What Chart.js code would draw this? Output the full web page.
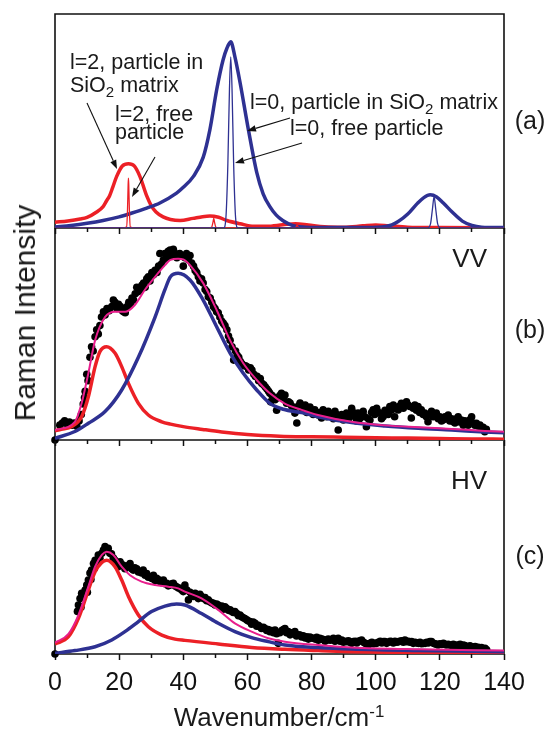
<!DOCTYPE html>
<html>
<head>
<meta charset="utf-8">
<script src="https://cdn.jsdelivr.net/npm/chart.js@4"></script>
<style>
body { margin: 0; background: #fff; width: 546px; height: 731px; position: relative; overflow: hidden;
       font-family: "Liberation Sans", Arial, sans-serif; color: #1a1a1a; }
.panel { position: absolute; left: 0; width: 546px; }
.txt { position: absolute; line-height: 1; white-space: nowrap; }
.txt sub { font-size: 70%; vertical-align: -0.3em; line-height: 0; }
.txt sup { font-size: 65%; vertical-align: 0.55em; line-height: 0; }
</style>
</head>
<body>
<div class="panel" style="top:0;height:236px"><canvas id="chart-a"></canvas></div>
<div class="panel" style="top:218px;height:230px"><canvas id="chart-b"></canvas></div>
<div class="panel" style="top:431px;height:300px"><canvas id="chart-c"></canvas></div>

<!-- annotations of panel (a) -->
<div class="txt" style="left:70px;top:63px;font-size:21.5px;transform:translateY(-50%)">l=2, particle in</div>
<div class="txt" style="left:70px;top:86px;font-size:21.5px;transform:translateY(-50%)">SiO<sub>2</sub> matrix</div>
<div class="txt" style="left:115px;top:115px;font-size:21.5px;transform:translateY(-50%)">l=2, free</div>
<div class="txt" style="left:115px;top:133px;font-size:21.5px;transform:translateY(-50%)">particle</div>
<div class="txt" style="left:250px;top:103px;font-size:21.5px;transform:translateY(-50%)">l=0, particle in SiO<sub>2</sub> matrix</div>
<div class="txt" style="left:290px;top:129px;font-size:21.5px;transform:translateY(-50%)">l=0, free particle</div>

<div class="txt" style="left:530px;top:120px;font-size:25px;transform:translate(-50%,-50%)">(a)</div>
<div class="txt" style="left:530px;top:329px;font-size:25px;transform:translate(-50%,-50%)">(b)</div>
<div class="txt" style="left:530px;top:555px;font-size:25px;transform:translate(-50%,-50%)">(c)</div>
<div class="txt" style="left:487px;top:258px;font-size:26px;transform:translate(-100%,-50%)">VV</div>
<div class="txt" style="left:487px;top:480px;font-size:26px;transform:translate(-100%,-50%)">HV</div>

<div class="txt" style="left:25px;top:313px;font-size:30px;transform:translate(-50%,-50%) rotate(-90deg)">Raman Intensity</div>
<div class="txt" style="left:279px;top:717px;font-size:26px;transform:translate(-50%,-50%)">Wavenumber/cm<sup>-1</sup></div>

<script>
// 坐标轴
const xMin = 0, xMax = 140;
const tickLabels = [0, 20, 40, 60, 80, 100, 120, 140];

// 颜色
const red = 'rgb(236,32,38)';
const blue = 'rgb(46,49,146)';
const pink = 'rgb(232,30,140)';

// (a) 计算曲线
const aRedX = [0, 4, 7.8, 10, 13, 15, 16, 17, 18, 19.2, 21, 22.9, 24.7, 26.5, 28.6, 30, 31.5, 33.7, 36, 39, 43, 46, 48.3, 51, 53.6, 57.7, 62, 66, 71, 75, 79, 84, 90, 96, 100, 104, 110, 120, 140];
const aRedY = [0.027, 0.033, 0.042, 0.05, 0.075, 0.1, 0.125, 0.15, 0.19, 0.24, 0.29, 0.30, 0.29, 0.24, 0.15, 0.105, 0.075, 0.052, 0.04, 0.035, 0.045, 0.053, 0.056, 0.05, 0.035, 0.02, 0.008, 0.008, 0.015, 0.02, 0.014, 0.006, 0.004, 0.01, 0.014, 0.01, 0.004, 0.002, 0.001];

const aBlueX = [0, 5, 10, 15, 20, 24, 28.6, 32.7, 37.9, 40, 43.1, 46.2, 48.3, 50.4, 52.4, 53.6, 54.8, 56.1, 57.7, 60.3, 62.9, 64.9, 67, 69, 71, 73, 75, 78, 85, 95, 102, 105, 107, 110, 113, 115, 117, 119, 121, 124, 127, 130, 133, 140];
const aBlueY = [0.005, 0.012, 0.022, 0.035, 0.052, 0.07, 0.093, 0.117, 0.163, 0.19, 0.24, 0.33, 0.46, 0.645, 0.785, 0.84, 0.87, 0.80, 0.68, 0.46, 0.26, 0.16, 0.10, 0.06, 0.035, 0.018, 0.008, 0.004, 0.002, 0.002, 0.005, 0.015, 0.03, 0.065, 0.115, 0.142, 0.155, 0.145, 0.118, 0.072, 0.032, 0.012, 0.004, 0.002];

const aThinRedX = [0, 21, 22.3, 22.6, 22.8, 22.9, 23.0, 23.2, 23.5, 24.8, 47, 48.8, 49.3, 49.5, 49.7, 50.2, 52, 74, 75.1, 75.5, 75.9, 77, 140];
const aThinRedY = [0, 0, 0.004, 0.08, 0.2, 0.233, 0.2, 0.08, 0.004, 0, 0, 0.003, 0.03, 0.045, 0.03, 0.003, 0, 0, 0.003, 0.014, 0.003, 0, 0];

const aThinBlueX = [0, 50, 52.6, 53.3, 53.9, 54.4, 54.8, 55.2, 55.7, 56.3, 57, 60, 112, 116.2, 117.1, 117.7, 118.2, 118.7, 119.3, 120.2, 124, 140];
const aThinBlueY = [0, 0, 0, 0.05, 0.3, 0.65, 0.80, 0.65, 0.3, 0.05, 0, 0, 0, 0, 0.02, 0.09, 0.146, 0.09, 0.02, 0, 0, 0];

// (b) VV
const bRedX = [0, 2, 5.2, 8.3, 10.4, 12.5, 14, 16.1, 18.7, 20.8, 22.9, 26, 29.1, 33.3, 36, 40, 46, 52, 60, 70, 80, 90, 100, 110, 120, 130, 140];
const bRedY = [0.044, 0.05, 0.063, 0.11, 0.204, 0.346, 0.417, 0.44, 0.41, 0.346, 0.267, 0.173, 0.118, 0.086, 0.075, 0.063, 0.05, 0.038, 0.026, 0.018, 0.015, 0.013, 0.011, 0.009, 0.007, 0.005, 0.004];

const bBlueX = [0, 6.2, 10.4, 15.6, 20.8, 26, 31.2, 34.3, 36, 38.4, 42.1, 46.2, 50.4, 54.6, 58.7, 62.9, 67, 71.2, 76.9, 82, 92.5, 102.9, 113.3, 123.7, 134, 140];
const bBlueY = [0.008, 0.04, 0.079, 0.134, 0.236, 0.39, 0.58, 0.71, 0.77, 0.786, 0.755, 0.66, 0.534, 0.41, 0.315, 0.236, 0.173, 0.145, 0.129, 0.11, 0.082, 0.066, 0.055, 0.047, 0.038, 0.034];

const bSumX = [0, 6.2, 8.3, 10.4, 12.5, 15.6, 18.7, 21.9, 24.9, 28.1, 31.2, 34.3, 36, 38.4, 40, 42.1, 46.2, 50.4, 54.6, 58.7, 62.9, 67, 71.5, 76.9, 82, 92.5, 102.9, 113.3, 123.7, 134, 140];
const bSumY = [0.047, 0.086, 0.173, 0.315, 0.47, 0.58, 0.605, 0.605, 0.637, 0.71, 0.77, 0.825, 0.85, 0.855, 0.852, 0.825, 0.74, 0.613, 0.47, 0.362, 0.283, 0.22, 0.173, 0.142, 0.118, 0.086, 0.069, 0.06, 0.052, 0.043, 0.039];

// (b) 实验数据点 [波数, 强度]
const bDots = [
  [0, 0], [1.5, 0.07], [2.3, 0.08], [3, 0.09], [3.8, 0.075], [4.5, 0.085], [5.3, 0.07], [6, 0.08], [6.8, 0.065], [7.5, 0.09],
  [8.2, 0.12], [8.8, 0.17], [9.2, 0.2], [9.4, 0.23], [9.9, 0.31], [10.3, 0.28], [10.9, 0.39], [11.4, 0.44], [11.9, 0.42], [12.5, 0.487],
  [13, 0.52], [13.5, 0.5], [14, 0.54], [14.5, 0.58], [15.1, 0.605], [15.6, 0.59], [16.2, 0.62], [16.9, 0.61], [17.7, 0.63], [18.2, 0.66],
  [18.7, 0.65], [19.3, 0.62], [19.8, 0.64], [20.4, 0.63], [21, 0.61], [21.4, 0.605], [21.9, 0.6], [22.5, 0.63], [23, 0.65], [23.5, 0.64],
  [24, 0.67], [24.5, 0.66], [25, 0.69], [25.5, 0.72], [26, 0.7], [26.6, 0.71], [27.1, 0.73], [27.6, 0.74], [28.1, 0.72], [28.6, 0.76],
  [29.1, 0.77], [29.6, 0.75], [30.2, 0.79], [30.7, 0.78], [31.2, 0.8], [31.8, 0.79], [32.3, 0.82], [32.7, 0.88], [33.2, 0.83], [33.8, 0.85],
  [34.3, 0.88], [34.8, 0.86], [35.3, 0.89], [35.9, 0.896], [36.4, 0.87], [36.9, 0.9], [37.5, 0.88], [38, 0.86], [38.5, 0.87], [38.9, 0.88],
  [39.5, 0.87], [40, 0.82], [40.5, 0.86], [41, 0.88], [41.6, 0.85], [42.1, 0.87], [42.6, 0.835], [43.2, 0.82], [43.7, 0.8], [44.2, 0.79],
  [44.7, 0.77], [45.2, 0.75], [45.7, 0.76], [46.2, 0.74], [46.8, 0.71], [47.3, 0.7], [47.8, 0.676], [48.4, 0.67], [48.9, 0.65], [49.4, 0.63],
  [49.9, 0.62], [50.4, 0.605], [50.9, 0.6], [51.4, 0.58], [52, 0.56], [52.5, 0.55], [53, 0.54], [53.6, 0.52], [54.1, 0.49], [54.6, 0.47],
  [55.2, 0.44], [55.7, 0.377], [56.3, 0.42], [56.8, 0.4], [57.3, 0.39], [57.8, 0.37], [58.3, 0.36], [58.9, 0.35], [59.4, 0.35], [59.9, 0.345],
  [60.4, 0.33], [60.9, 0.34], [61.4, 0.33], [62, 0.31], [62.5, 0.3], [63, 0.3], [63.5, 0.28], [64, 0.29], [64.5, 0.267], [65.1, 0.26],
  [65.6, 0.25], [66.1, 0.24], [66.6, 0.23], [67, 0.22], [67.2, 0.18], [67.7, 0.21], [68.2, 0.2], [68.6, 0.19], [69.1, 0.14], [69.6, 0.2],
  [70.1, 0.21], [70.6, 0.22], [71.2, 0.2], [71.7, 0.212], [72.2, 0.173], [72.8, 0.18], [73.3, 0.174], [73.8, 0.16], [74.3, 0.15], [74.8, 0.127],
  [75.4, 0.08], [75.9, 0.16], [76.4, 0.174], [76.9, 0.15], [77.5, 0.14], [78, 0.165], [78.5, 0.13], [79, 0.15], [79.5, 0.156], [80, 0.13],
  [80.5, 0.12], [81, 0.142], [81.5, 0.13], [82.1, 0.118], [82.6, 0.13], [83.1, 0.104], [83.6, 0.142], [84.2, 0.12], [84.7, 0.11], [85.2, 0.135],
  [85.7, 0.125], [86.2, 0.118], [86.8, 0.1], [87.3, 0.135], [87.8, 0.12], [88.3, 0.047], [88.8, 0.11], [89.4, 0.12], [89.9, 0.094], [90.4, 0.11],
  [90.9, 0.127], [91.5, 0.1], [92, 0.12], [92.5, 0.15], [93, 0.13], [93.5, 0.11], [94, 0.09], [94.5, 0.127], [95, 0.1], [95.6, 0.12],
  [96.1, 0.135], [96.6, 0.11], [97.1, 0.063], [97.7, 0.1], [98.2, 0.094], [98.7, 0.13], [99.2, 0.142], [99.7, 0.12], [100.3, 0.15], [100.8, 0.13],
  [101.3, 0.127], [101.8, 0.1], [102.3, 0.11], [102.9, 0.14], [103.4, 0.135], [103.9, 0.12], [104.4, 0.158], [104.9, 0.14], [105.5, 0.165], [105.9, 0.11],
  [106.5, 0.15], [107, 0.142], [107.5, 0.16], [108, 0.173], [108.6, 0.15], [109.1, 0.17], [109.6, 0.18], [110.1, 0.165], [110.6, 0.158], [111.1, 0.104],
  [111.7, 0.15], [112.2, 0.165], [112.7, 0.14], [113.2, 0.158], [113.7, 0.13], [114.2, 0.142], [114.8, 0.12], [115.3, 0.127], [115.8, 0.11], [116.3, 0.086],
  [116.8, 0.12], [117.4, 0.135], [117.9, 0.11], [118.4, 0.12], [118.9, 0.127], [119.5, 0.1], [120, 0.11], [120.5, 0.09], [121, 0.094], [121.6, 0.11],
  [122.1, 0.1], [122.6, 0.118], [123.1, 0.09], [123.7, 0.1], [124.2, 0.086], [124.7, 0.08], [125.2, 0.1], [125.7, 0.11], [126.2, 0.085], [126.7, 0.094],
  [127.3, 0.07], [127.8, 0.09], [128.3, 0.086], [128.8, 0.07], [129.4, 0.095], [129.9, 0.11], [130.4, 0.08], [130.9, 0.07], [131.4, 0.079], [132, 0.065],
  [132.5, 0.071], [133, 0.055], [133.5, 0.06], [134, 0.039], [134.5, 0.05]
];

// (c) HV
const cRedX = [0, 4.2, 7.3, 10.4, 12.5, 14.6, 16.1, 18.7, 20.8, 22.9, 26, 29.1, 33.3, 37.4, 40.5, 50.9, 61.3, 71.7, 82.1, 92.5, 113.3, 140];
const cRedY = [0.047, 0.081, 0.167, 0.30, 0.386, 0.43, 0.44, 0.41, 0.347, 0.27, 0.183, 0.128, 0.089, 0.07, 0.064, 0.047, 0.031, 0.022, 0.016, 0.011, 0.006, 0.003];

const cBlueX = [0, 6.2, 12.5, 17.7, 21.8, 26, 30.1, 34.3, 37.9, 40.5, 45.7, 50.9, 56.1, 61.3, 66.5, 71.7, 82.1, 92.5, 113.3, 140];
const cBlueY = [0.003, 0.016, 0.034, 0.066, 0.105, 0.152, 0.199, 0.225, 0.235, 0.23, 0.19, 0.144, 0.105, 0.077, 0.058, 0.042, 0.03, 0.023, 0.016, 0.011];

const cSumX = [0, 4.2, 7.3, 10.4, 12.5, 14.6, 16.1, 18.2, 20.8, 23.4, 27, 31.2, 35.3, 38.4, 40.5, 45.7, 50.9, 56.1, 61.3, 66.5, 71.7, 82.1, 92.5, 113.3, 140];
const cSumY = [0.053, 0.095, 0.183, 0.316, 0.41, 0.465, 0.48, 0.465, 0.41, 0.37, 0.34, 0.324, 0.316, 0.308, 0.293, 0.261, 0.207, 0.144, 0.105, 0.074, 0.058, 0.042, 0.031, 0.022, 0.016];

const cDots = [
  [0, 0], [7, 0.2], [7.3, 0.23], [7.8, 0.26], [8.1, 0.22], [8.3, 0.285], [8.8, 0.27], [9.4, 0.3], [9.9, 0.324], [10.1, 0.29],
  [10.4, 0.347], [10.9, 0.38], [11.2, 0.35], [11.4, 0.394], [12, 0.425], [12.2, 0.4], [12.5, 0.44], [13, 0.43], [13.5, 0.465], [14, 0.45],
  [14.6, 0.473], [15.1, 0.488], [15.6, 0.504], [16.1, 0.49], [16.6, 0.496], [17.1, 0.473], [17.6, 0.47], [18.2, 0.45], [18.7, 0.44], [19.2, 0.425],
  [19.7, 0.41], [20.3, 0.433], [20.8, 0.42], [21.3, 0.417], [21.8, 0.4], [22.3, 0.41], [22.9, 0.415], [23.4, 0.425], [23.9, 0.4], [24.4, 0.394],
  [24.9, 0.405], [25.5, 0.4], [26, 0.385], [26.5, 0.386], [27, 0.38], [27.5, 0.394], [28.1, 0.37], [28.6, 0.378], [29.1, 0.36], [29.6, 0.363],
  [30.2, 0.355], [30.7, 0.37], [31.2, 0.345], [31.7, 0.355], [32.2, 0.35], [32.7, 0.34], [33.3, 0.335], [33.8, 0.347], [34.3, 0.33], [34.8, 0.332],
  [35.3, 0.32], [35.9, 0.324], [36.4, 0.33], [36.9, 0.332], [37.4, 0.32], [37.9, 0.316], [38.5, 0.31], [39, 0.308], [39.5, 0.3], [40, 0.293],
  [40.5, 0.324], [41.1, 0.3], [41.6, 0.254], [42.1, 0.29], [42.6, 0.28], [43.2, 0.27], [43.7, 0.285], [44.2, 0.275], [44.7, 0.26], [45.2, 0.28],
  [45.7, 0.27], [46.3, 0.26], [46.8, 0.265], [47.3, 0.25], [47.8, 0.254], [48.3, 0.245], [48.9, 0.24], [49.4, 0.238], [49.9, 0.23], [50.4, 0.235],
  [50.9, 0.23], [51.5, 0.22], [52, 0.225], [52.5, 0.21], [53, 0.222], [53.5, 0.215], [54.1, 0.205], [54.6, 0.207], [55.1, 0.2], [55.6, 0.195],
  [56.1, 0.199], [56.7, 0.19], [57.2, 0.18], [57.7, 0.183], [58.2, 0.175], [58.7, 0.17], [59.2, 0.167], [59.8, 0.16], [60.3, 0.155], [60.8, 0.152],
  [61.3, 0.14], [61.8, 0.15], [62.4, 0.144], [62.9, 0.13], [63.4, 0.135], [63.9, 0.128], [64.4, 0.12], [65, 0.125], [65.5, 0.12], [66, 0.11],
  [66.5, 0.115], [67, 0.105], [67.6, 0.11], [68.1, 0.1], [68.6, 0.112], [69.1, 0.095], [69.6, 0.05], [70.1, 0.1], [70.7, 0.11], [71.2, 0.115],
  [71.7, 0.12], [72.2, 0.1], [72.7, 0.105], [73.3, 0.09], [73.8, 0.1], [74.3, 0.095], [74.8, 0.105], [75.3, 0.085], [75.9, 0.09], [76.4, 0.089],
  [76.9, 0.08], [77.4, 0.085], [78, 0.075], [78.5, 0.081], [79, 0.07], [79.5, 0.08], [80, 0.075], [80.5, 0.074], [81.1, 0.07], [81.6, 0.078],
  [82.1, 0.065], [82.6, 0.074], [83.2, 0.07], [83.7, 0.068], [84.2, 0.06], [84.7, 0.066], [85.2, 0.07], [85.8, 0.065], [86.3, 0.068], [86.8, 0.074],
  [87.3, 0.06], [87.8, 0.068], [88.3, 0.074], [88.9, 0.06], [89.4, 0.065], [89.9, 0.055], [90.4, 0.06], [91, 0.058], [91.5, 0.062], [92, 0.055],
  [92.5, 0.05], [93, 0.058], [93.6, 0.06], [94.1, 0.052], [94.6, 0.06], [95.1, 0.062], [95.6, 0.066], [96.2, 0.055], [96.7, 0.05], [97.2, 0.048],
  [97.7, 0.042], [98.2, 0.05], [98.8, 0.055], [99.3, 0.048], [99.8, 0.05], [100.3, 0.05], [100.8, 0.055], [101.4, 0.06], [101.9, 0.052], [102.4, 0.058],
  [102.9, 0.058], [103.4, 0.05], [104, 0.055], [104.5, 0.06], [105, 0.058], [105.5, 0.052], [106, 0.06], [106.6, 0.055], [107.1, 0.058], [107.6, 0.06],
  [108.1, 0.062], [108.6, 0.055], [109.1, 0.066], [109.7, 0.058], [110.2, 0.06], [110.7, 0.055], [111.2, 0.058], [111.7, 0.05], [112.3, 0.055], [112.8, 0.052],
  [113.3, 0.05], [113.8, 0.055], [114.3, 0.048], [114.9, 0.05], [115.4, 0.05], [115.9, 0.055], [116.4, 0.052], [116.9, 0.058], [117.4, 0.058], [118, 0.05],
  [118.5, 0.048], [119, 0.045], [119.5, 0.042], [120, 0.048], [120.6, 0.045], [121.1, 0.05], [121.6, 0.045], [122.1, 0.042], [122.6, 0.045], [123.2, 0.042],
  [123.7, 0.04], [124.2, 0.045], [124.7, 0.04], [125.2, 0.042], [125.8, 0.04], [126.3, 0.045], [126.8, 0.038], [127.3, 0.042], [127.8, 0.04], [128.4, 0.035],
  [128.9, 0.02], [129.4, 0.038], [129.9, 0.034], [130.4, 0.032], [131, 0.035], [131.5, 0.03], [132, 0.031], [132.5, 0.028], [133, 0.03], [133.6, 0.025],
  [134.1, 0.027], [134.6, 0.02]
];

// 箭头 (像素坐标, 只用于 (a) 的标注)
const arrows = [
  { from: [87, 103], to: [117, 169] },
  { from: [155, 157], to: [132, 197] },
  { from: [290, 118], to: [247, 131] },
  { from: [302, 143], to: [235, 163] }
];

function toPoints(xs, ys) {
  return xs.map((x, i) => ({ x: x, y: ys[i] }));
}

function curve(xs, ys, color, width, order) {
  return {
    data: toPoints(xs, ys), showLine: true, borderColor: color, borderWidth: width,
    pointRadius: 0, cubicInterpolationMode: 'monotone', fill: false, order: order
  };
}

function dots(list) {
  return {
    data: list.map(p => ({ x: p[0], y: p[1] })), showLine: false, pointRadius: 3.8,
    backgroundColor: '#000', borderWidth: 0, order: 10, clip: false
  };
}

// 画框: (a) 画四边, (b)(c) 不画上边
function framePlugin(full) {
  return {
    id: 'frame',
    beforeDatasetsDraw(chart) {
      const { ctx, chartArea: a } = chart;
      ctx.save();
      ctx.strokeStyle = '#111';
      ctx.lineWidth = 1.6;
      ctx.beginPath();
      if (full) {
        ctx.rect(a.left, a.top, a.right - a.left, a.bottom - a.top);
      } else {
        ctx.moveTo(a.left, a.top);
        ctx.lineTo(a.left, a.bottom);
        ctx.lineTo(a.right, a.bottom);
        ctx.lineTo(a.right, a.top);
      }
      ctx.stroke();
      ctx.restore();
    }
  };
}

const arrowPlugin = {
  id: 'arrows',
  afterDatasetsDraw(chart) {
    const ctx = chart.ctx;
    ctx.save();
    ctx.strokeStyle = '#111';
    ctx.fillStyle = '#111';
    ctx.lineWidth = 1.1;
    arrows.forEach(a => {
      const [x1, y1] = a.from, [x2, y2] = a.to;
      const ang = Math.atan2(y2 - y1, x2 - x1);
      const len = 9, half = 3.2;
      const bx = x2 - len * Math.cos(ang), by = y2 - len * Math.sin(ang);
      ctx.beginPath();
      ctx.moveTo(x1, y1);
      ctx.lineTo(bx, by);
      ctx.stroke();
      ctx.beginPath();
      ctx.moveTo(x2, y2);
      ctx.lineTo(bx + half * Math.sin(ang), by - half * Math.cos(ang));
      ctx.lineTo(bx - half * Math.sin(ang), by + half * Math.cos(ang));
      ctx.closePath();
      ctx.fill();
    });
    ctx.restore();
  }
};

function makeOptions(showLabels, padTop, axisHeight) {
  return {
    responsive: true, maintainAspectRatio: false, animation: false,
    layout: { padding: { top: padTop, left: 55, right: 42, bottom: 0 } },
    plugins: { legend: { display: false }, tooltip: { enabled: false } },
    scales: {
      x: {
        type: 'linear', min: xMin, max: xMax,
        afterFit: s => { s.height = axisHeight; },
        border: { display: false },
        grid: {
          drawOnChartArea: false, drawTicks: true, tickLength: 6, tickColor: '#111', tickWidth: 1.5,
          tickBorderDash: c => (c.tick && c.tick.value % 20 === 0) ? [] : [4, 20]
        },
        ticks: {
          display: showLabels, stepSize: 10, autoSkip: false, maxRotation: 0, padding: 8,
          color: '#111', font: { family: 'Liberation Sans', size: 25 },
          callback: v => tickLabels.includes(v) ? String(v) : ''
        }
      },
      y: { display: false, min: 0, max: 1 }
    }
  };
}

window.onload = function () {
  new Chart(document.getElementById('chart-a'), {
    type: 'scatter',
    data: { datasets: [
      curve(aThinBlueX, aThinBlueY, blue, 1.3, 1),
      curve(aThinRedX, aThinRedY, red, 1.3, 2),
      curve(aBlueX, aBlueY, blue, 3.5, 3),
      curve(aRedX, aRedY, red, 3.5, 4)
    ] },
    options: makeOptions(false, 14, 8),
    plugins: [framePlugin(true), arrowPlugin]
  });

  new Chart(document.getElementById('chart-b'), {
    type: 'scatter',
    data: { datasets: [
      curve(bSumX, bSumY, pink, 2, 1),
      curve(bBlueX, bBlueY, blue, 3.5, 2),
      curve(bRedX, bRedY, red, 3.5, 3),
      dots(bDots)
    ] },
    options: makeOptions(false, 10, 8),
    plugins: [framePlugin(false)]
  });

  new Chart(document.getElementById('chart-c'), {
    type: 'scatter',
    data: { datasets: [
      curve(cSumX, cSumY, pink, 2, 1),
      curve(cBlueX, cBlueY, blue, 3.5, 2),
      curve(cRedX, cRedY, red, 3.5, 3),
      dots(cDots)
    ] },
    options: makeOptions(true, 10, 77),
    plugins: [framePlugin(false)]
  });
};
</script>
</body>
</html>
